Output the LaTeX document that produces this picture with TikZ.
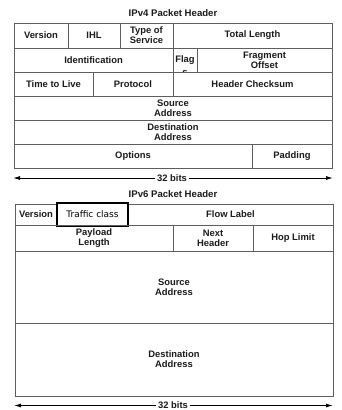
\documentclass[tikz,border=0pt]{standalone}
\usepackage{fontspec}
\setmainfont{Liberation Sans}
\newfontfamily\tcfont{DejaVu Sans}
\usetikzlibrary{arrows.meta}
\definecolor{linegray}{HTML}{5E5E5E}
\definecolor{txt}{HTML}{1A1A1A}
\tikzset{
  cellfont/.style={font=\fontsize{9.4}{10}\selectfont\bfseries, text=txt},
  cell/.style={draw=linegray, line width=0.8pt, inner sep=0pt, align=center, cellfont},
  title/.style={font=\fontsize{9.6}{10}\selectfont\bfseries, text=txt},
  bitslabel/.style={font=\fontsize{9.4}{10}\selectfont\bfseries, text=txt, fill=white, inner sep=1.5pt},
  dim/.style={line width=0.9pt, -{Latex[length=7pt,width=4pt]}},
  tcbox/.style={draw=black, line width=1.1pt, fill=white, inner sep=0pt, font=\tcfont\fontsize{9}{10}\selectfont, text=black}
}
\begin{document}
\begin{tikzpicture}[x=1pt,y=1pt]
\useasboundingbox (0,0) rectangle (342,-410);
% ---------- IPv4 ----------
\node[title] (t4) at (173,-13) {IPv4 Packet Header};
% row 1
\node[cell, minimum width=54, minimum height=25] (v4ver) at (41,-35.5) {Version};
\node[cell, minimum width=52, minimum height=25] (v4ihl) at (94,-35.5) {IHL};
\node[cell, minimum width=53, minimum height=25] (v4tos) at (146.5,-35.5) {Type of\\Service};
\node[cell, minimum width=159, minimum height=25] (v4tl) at (252.5,-35.5) {Total Length};
% row 2
\node[cell, minimum width=159, minimum height=24] (v4id) at (93.5,-60) {Identification};
\node[cell, minimum width=24, minimum height=24] (v4flag) at (185,-60) {};
\node[cell, minimum width=135, minimum height=24] (v4frag) at (264.5,-60) {Fragment\\Offset};
\begin{scope}
  \clip (v4flag.south west) rectangle (v4flag.north east);
  \node[cellfont, inner sep=0pt, anchor=base] (flagtxt) at (185,-62.5) {Flag};
  \node[cellfont, inner sep=0pt, anchor=base] (flags) at (185,-75.2) {s};
\end{scope}
% row 3
\node[cell, minimum width=79, minimum height=24] (v4ttl) at (53.5,-84) {Time to Live};
\node[cell, minimum width=80, minimum height=24] (v4proto) at (133,-84) {Protocol};
\node[cell, minimum width=159, minimum height=24] (v4csum) at (252.5,-84) {Header Checksum};
% rows 4-6
\node[cell, minimum width=318, minimum height=24] (v4src) at (173,-108) {Source\\Address};
\node[cell, minimum width=318, minimum height=24] (v4dst) at (173,-132) {Destination\\Address};
\node[cell, minimum width=238, minimum height=24] (v4opt) at (133,-156) {Options};
\node[cell, minimum width=80, minimum height=24] (v4pad) at (292,-156) {Padding};
% 32 bits arrow
\coordinate (a4l) at (13,-178);
\coordinate (a4r) at (333,-178);
\node[bitslabel] (b4) at (172,-178) {32 bits};
\draw[dim] (b4.west) -- (a4l);
\draw[dim] (b4.east) -- (a4r);
% ---------- IPv6 ----------
\node[title] (t6) at (173,-194) {IPv6 Packet Header};
% row 1
\node[cell, minimum width=42, minimum height=21] (v6ver) at (36,-214.5) {Version};
\node[cell, minimum width=205, minimum height=21] (v6flow) at (230.5,-214.5) {Flow Label};
\node[tcbox, minimum width=71, minimum height=23] (v6tc) at (92.5,-214.5) {Traffic class};
% row 2
\node[cell, minimum width=158, minimum height=26] (v6pl) at (94,-238) {Payload\\Length};
\node[cell, minimum width=80, minimum height=26] (v6nh) at (213,-238) {Next\\Header};
\node[cell, minimum width=80, minimum height=26] (v6hl) at (293,-238) {Hop Limit};
% rows 3-4
\node[cell, minimum width=318, minimum height=72] (v6src) at (174,-287) {Source\\Address};
\node[cell, minimum width=318, minimum height=73] (v6dst) at (174,-359.5) {Destination\\Address};
% 32 bits arrow
\coordinate (a6l) at (14,-405.5);
\coordinate (a6r) at (333,-405.5);
\node[bitslabel, inner ysep=0.5pt] (b6) at (173,-405) {32 bits};
\draw[dim] (b6.west |- a6l) -- (a6l);
\draw[dim] (b6.east |- a6r) -- (a6r);
\end{tikzpicture}
\end{document}
